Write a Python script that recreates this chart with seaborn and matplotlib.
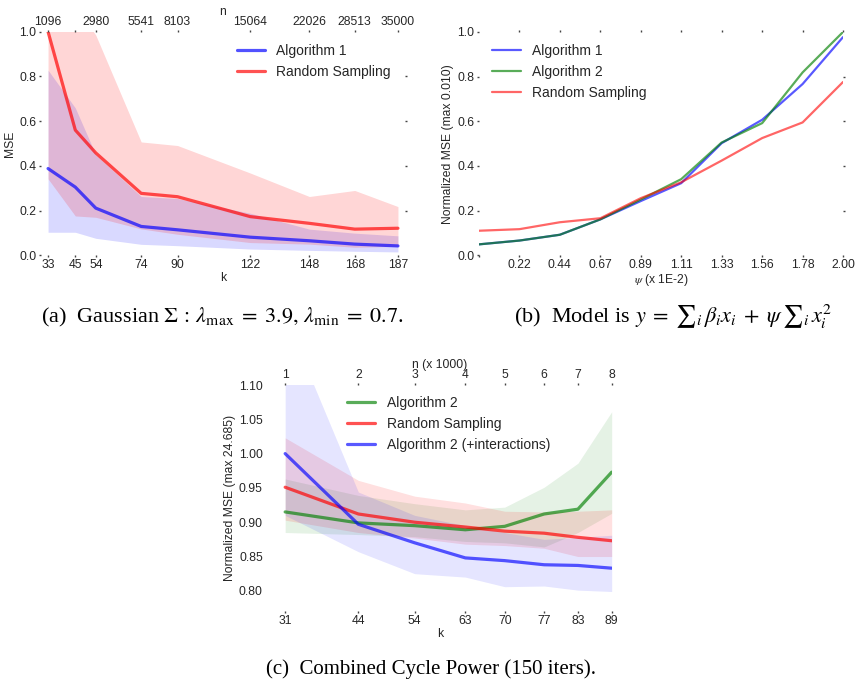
import numpy as np
import pandas as pd
import matplotlib
matplotlib.use("Agg")
import matplotlib.pyplot as plt
import seaborn as sns

# ---------------- Panel (a) data ----------------
a_k = [33, 45, 54, 74, 90, 122, 148, 168, 187]
a_n_labels = ["1096", "", "2980", "5541", "8103", "15064", "22026", "28513", "35000"]
a_alg1 = [0.388, 0.305, 0.211, 0.129, 0.114, 0.081, 0.065, 0.050, 0.042]
a_alg1_lo = [0.103, 0.103, 0.076, 0.049, 0.043, 0.028, 0.022, 0.018, 0.015]
a_alg1_hi = [0.828, 0.659, 0.450, 0.263, 0.254, 0.188, 0.117, 0.099, 0.087]
a_rand = [1.000, 0.560, 0.458, 0.277, 0.262, 0.173, 0.143, 0.117, 0.121]
a_rand_lo = [0.342, 0.176, 0.170, 0.118, 0.094, 0.057, 0.050, 0.036, 0.040]
a_rand_hi = [1.200, 1.120, 0.985, 0.507, 0.491, 0.368, 0.263, 0.290, 0.218]

# ---------------- Panel (b) data ----------------
b_psi = [0.0, 0.222, 0.444, 0.667, 0.889, 1.111, 1.333, 1.556, 1.778, 2.0]
b_tick_labels = ["", "0.22", "0.44", "0.67", "0.89", "1.11", "1.33", "1.56", "1.78", "2.00"]
b_alg1 = [0.049, 0.066, 0.092, 0.161, 0.243, 0.323, 0.502, 0.607, 0.767, 0.977]
b_alg2 = [0.049, 0.066, 0.092, 0.161, 0.250, 0.341, 0.505, 0.592, 0.819, 1.000]
b_rand = [0.110, 0.117, 0.148, 0.166, 0.256, 0.327, 0.424, 0.525, 0.595, 0.776]

# ---------------- Panel (c) data ----------------
c_k = [31, 44, 54, 63, 70, 77, 83, 89]
c_n_labels = ["1", "2", "3", "4", "5", "6", "7", "8"]
c_alg2 = [0.915, 0.899, 0.895, 0.889, 0.894, 0.912, 0.919, 0.973]
c_alg2_lo = [0.885, 0.882, 0.879, 0.872, 0.870, 0.864, 0.885, 0.913]
c_alg2_hi = [0.963, 0.939, 0.927, 0.918, 0.922, 0.951, 0.986, 1.061]
c_rand = [0.951, 0.912, 0.900, 0.893, 0.887, 0.884, 0.878, 0.873]
c_rand_lo = [0.903, 0.885, 0.877, 0.868, 0.866, 0.862, 0.850, 0.850]
c_rand_hi = [1.023, 0.961, 0.938, 0.928, 0.916, 0.915, 0.916, 0.918]
c_int = [1.000, 0.897, 0.870, 0.848, 0.844, 0.838, 0.837, 0.833]
c_int_lo = [0.910, 0.857, 0.825, 0.820, 0.806, 0.807, 0.801, 0.799]
c_int_hi = [1.200, 0.944, 0.910, 0.895, 0.885, 0.875, 0.878, 0.881]

sns.set_theme(style="white")
plt.rcParams["font.family"] = ["Liberation Sans", "DejaVu Sans"]
plt.rcParams["mathtext.fontset"] = "stix"

TICK_FS = 8.7
LEG_FS = 10
TXT = "#262626"

W, H = 858, 682
fig = plt.figure(figsize=(W / 100, H / 100), dpi=100)


def axes_px(left, right, top, bottom):
    return fig.add_axes([left / W, 1 - bottom / H, (right - left) / W, (bottom - top) / H])


def style(ax):
    for s in ax.spines.values():
        s.set_visible(False)
    ax.tick_params(axis="both", which="both", length=1.5, width=1, color="#444444",
                   labelsize=TICK_FS, labelcolor=TXT, pad=2, direction="out")
    ax.tick_params(axis="x", pad=1.2)


def band(ax, x, lo, hi, color, alpha):
    ax.fill_between(x, lo, hi, color=color, alpha=alpha, linewidth=0)


LEG_KW = dict(frameon=False, fontsize=LEG_FS, handlelength=2.05, handletextpad=0.8,
              labelspacing=0.5, borderpad=0, borderaxespad=0, loc="upper left")

# ---------------- Panel (a) ----------------
axa = axes_px(41, 405, 31.7, 255.3)
band(axa, a_k, a_alg1_lo, a_alg1_hi, "blue", 0.15)
band(axa, a_k, a_rand_lo, a_rand_hi, "red", 0.16)
sns.lineplot(x=a_k, y=a_alg1, ax=axa, color="blue", alpha=0.68, lw=2.3, label="Algorithm 1")
sns.lineplot(x=a_k, y=a_rand, ax=axa, color="red", alpha=0.68, lw=2.3, label="Random Sampling")
axa.set_xlim(29.9, 190.1)
axa.set_ylim(0, 1.0)
axa.set_xticks(a_k)
axa.set_xticklabels([str(v) for v in a_k])
axa.set_yticks([0, 0.2, 0.4, 0.6, 0.8, 1.0])
axa.set_yticklabels(["0.0", "0.2", "0.4", "0.6", "0.8", "1.0"])
axa.set_xlabel("k", fontsize=TICK_FS, color=TXT, labelpad=1)
axa.set_ylabel("MSE", fontsize=TICK_FS, color=TXT, labelpad=2)
style(axa)
axa.legend(bbox_to_anchor=(0.538, 0.945), **LEG_KW)
ta = axa.twiny()
ta.set_xlim(axa.get_xlim())
ta.set_xticks(a_k)
ta.set_xticklabels(a_n_labels)
ta.set_xlabel("n", fontsize=TICK_FS, color=TXT, labelpad=0.5)
style(ta)
ra = axa.twinx()
ra.set_ylim(axa.get_ylim())
ra.set_yticks([0.2, 0.4, 0.6, 0.8])
ra.set_yticklabels([])
style(ra)

# ---------------- Panel (b) ----------------
axb = axes_px(479, 843, 32, 255.3)
sns.lineplot(x=b_psi, y=b_alg1, ax=axb, color="blue", alpha=0.65, lw=1.6, label="Algorithm 1")
sns.lineplot(x=b_psi, y=b_alg2, ax=axb, color="green", alpha=0.65, lw=1.6, label="Algorithm 2")
sns.lineplot(x=b_psi, y=b_rand, ax=axb, color="red", alpha=0.6, lw=1.6, label="Random Sampling")
axb.set_xlim(0, 2.0)
axb.set_ylim(0, 1.0)
axb.set_xticks(b_psi)
axb.set_xticklabels(b_tick_labels)
axb.set_yticks([0, 0.2, 0.4, 0.6, 0.8, 1.0])
axb.set_yticklabels(["0.0", "0.2", "0.4", "0.6", "0.8", "1.0"])
axb.set_xlabel(r"$\psi$ (x 1E-2)", fontsize=TICK_FS, color=TXT, labelpad=1)
axb.set_ylabel("Normalized MSE (max 0.010)", fontsize=TICK_FS, color=TXT, labelpad=2)
style(axb)
axb.legend(bbox_to_anchor=(0.036, 0.945), **LEG_KW)
tb = axb.twiny()
tb.set_xlim(axb.get_xlim())
tb.set_xticks(b_psi[1:])
tb.set_xticklabels([])
style(tb)
rb = axb.twinx()
rb.set_ylim(axb.get_ylim())
rb.set_yticks([0.2, 0.4, 0.6, 0.8])
rb.set_yticklabels([])
style(rb)

# ---------------- Panel (c) ----------------
axc = axes_px(267.7, 611.7, 385, 611)
band(axc, c_k, c_alg2_lo, c_alg2_hi, "green", 0.1)
band(axc, c_k, c_rand_lo, c_rand_hi, "red", 0.12)
band(axc, c_k, c_int_lo, c_int_hi, "blue", 0.1)
sns.lineplot(x=c_k, y=c_alg2, ax=axc, color="green", alpha=0.65, lw=2.3, label="Algorithm 2")
sns.lineplot(x=c_k, y=c_rand, ax=axc, color="red", alpha=0.68, lw=2.3, label="Random Sampling")
sns.lineplot(x=c_k, y=c_int, ax=axc, color="blue", alpha=0.65, lw=2.3, label="Algorithm 2 (+interactions)")
axc.set_xlim(27.9, 89)
axc.set_ylim(0.7706, 1.10)
axc.set_xticks(c_k)
axc.set_xticklabels([str(v) for v in c_k])
yt = [0.80, 0.85, 0.90, 0.95, 1.00, 1.05, 1.10]
axc.set_yticks(yt)
axc.set_yticklabels([f"{v:.2f}" for v in yt])
axc.set_xlabel("k", fontsize=TICK_FS, color=TXT, labelpad=1)
axc.set_ylabel("Normalized MSE (max 24.685)", fontsize=TICK_FS, color=TXT, labelpad=2)
style(axc)
axc.legend(bbox_to_anchor=(0.2305, 0.952), **LEG_KW)
tc = axc.twiny()
tc.set_xlim(axc.get_xlim())
tc.set_xticks(c_k)
tc.set_xticklabels(c_n_labels)
tc.set_xlabel("n (x 1000)", fontsize=TICK_FS, color=TXT, labelpad=1)
style(tc)

# ---------------- Captions ----------------
cap_kw = dict(family=["Liberation Serif", "DejaVu Serif"], color="black",
              ha="center", va="center")
fig.text(222 / W, 1 - 317 / H,
         r"(a)  Gaussian $\Sigma\,:\,\lambda_{\max}\;=\;3.9,\,\lambda_{\min}\;=\;0.7$.",
         fontsize=16, **cap_kw)
fig.text(673 / W, 1 - 317 / H,
         r"(b)  Model is $y\;=\;{\sum}_i\,\beta_i x_i\;+\;\psi\,{\sum}_i\,x_i^2$",
         fontsize=16, **cap_kw)
fig.text(431 / W, 1 - 669 / H, "(c)  Combined Cycle Power (150 iters).", fontsize=15, **cap_kw)

fig.savefig("out.png", dpi=100)
